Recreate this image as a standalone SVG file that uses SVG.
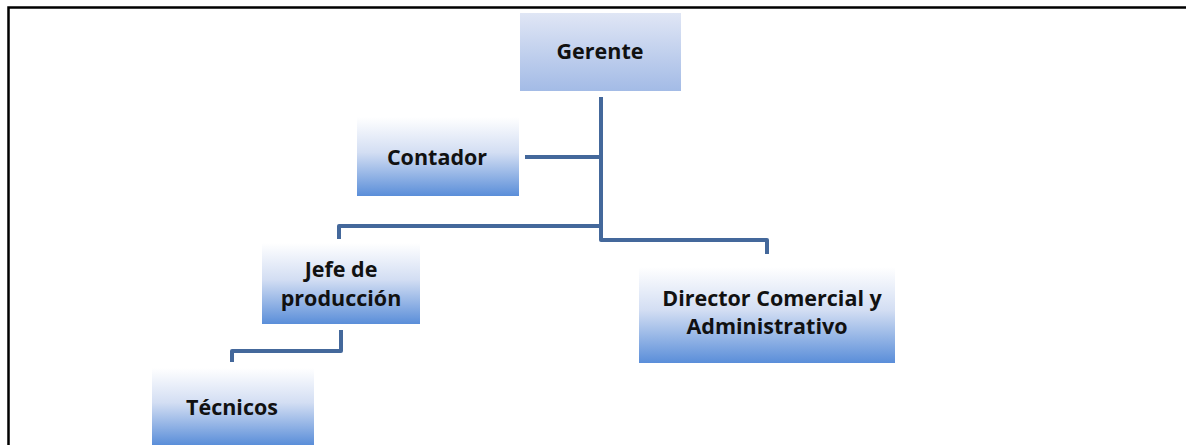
<svg xmlns="http://www.w3.org/2000/svg" width="1186" height="445" viewBox="0 0 1186 445">
<defs>
<linearGradient id="gTop" x1="0" y1="0" x2="0" y2="1">
<stop offset="0" stop-color="#e0e6f5"/>
<stop offset="1" stop-color="#a3bbe6"/>
</linearGradient>
<linearGradient id="gBox" x1="0" y1="0" x2="0" y2="1">
<stop offset="0" stop-color="#ffffff"/>
<stop offset="0.45" stop-color="#d3def3"/>
<stop offset="1" stop-color="#5a8ed9"/>
</linearGradient>
<style>
.lbl{font-family:"Open Sans","Liberation Sans",sans-serif;font-weight:700;font-size:21.5px;fill:#111;text-anchor:middle}
.con{fill:none;stroke:#44689b;stroke-width:4;stroke-linejoin:round}
.frame{fill:none;stroke:#000;stroke-width:2.5}
</style>
</defs>
<rect width="1186" height="445" fill="#fff"/>
<path class="frame" d="M8.5 445 V7.5 H1186"/>
<g id="connectors">
<path class="con" d="M601 97 V240 H767 V254"/>
<path class="con" d="M525 157 H601"/>
<path class="con" d="M601 226 H339 V239"/>
<path class="con" d="M341 330 V351 H232 V362"/>
</g>
<g id="gerente">
<rect x="520" y="13" width="161" height="78" fill="url(#gTop)"/>
<text class="lbl" x="600" y="59">Gerente</text>
</g>
<g id="contador">
<rect x="357" y="117" width="162" height="79" fill="url(#gBox)"/>
<text class="lbl" x="437" y="165">Contador</text>
</g>
<g id="jefe">
<rect x="262" y="243" width="158" height="81" fill="url(#gBox)"/>
<text class="lbl" x="341" y="277">Jefe de</text>
<text class="lbl" x="341" y="306">producción</text>
</g>
<g id="director">
<rect x="639" y="267" width="256" height="96" fill="url(#gBox)"/>
<text class="lbl" x="772" y="306">Director Comercial y</text>
<text class="lbl" x="767" y="334">Administrativo</text>
</g>
<g id="tecnicos">
<rect x="152" y="368" width="162" height="77" fill="url(#gBox)"/>
<text class="lbl" x="232" y="415">Técnicos</text>
</g>
</svg>
